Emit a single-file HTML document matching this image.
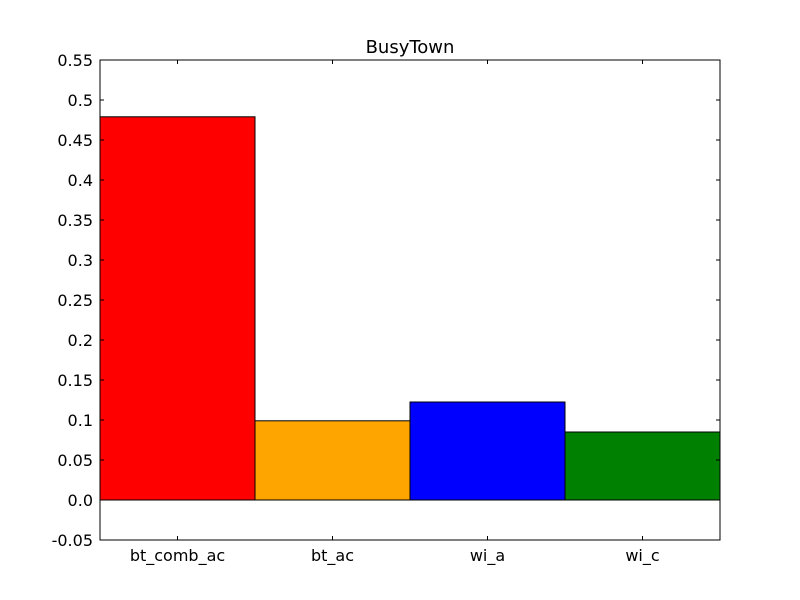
<!DOCTYPE html>
<html><head><meta charset="utf-8"><style>body{margin:0;background:#fff}svg{display:block}text{font-family:"DejaVu Sans","Liberation Sans",sans-serif;font-size:16px;fill:#000}</style></head>
<body>
<svg id="chart" width="800" height="600" xmlns="http://www.w3.org/2000/svg">
<rect width="800" height="600" fill="#fff"/>
<text x="410" y="53" text-anchor="middle" style="font-size:18px">BusyTown</text>
<g id="bars"></g><g id="axes"></g>
</svg>
<script>
const categories = ["bt_comb_ac","bt_ac","wi_a","wi_c"];
const values = [0.479, 0.099, 0.1225, 0.085];
const colors = ["#ff0000","#ffa500","#0000ff","#008000"];
const yTicks = [-0.05,0,0.05,0.1,0.15,0.2,0.25,0.3,0.35,0.4,0.45,0.5,0.55];
const yTickLabels = ["-0.05","0.0","0.05","0.1","0.15","0.2","0.25","0.3","0.35","0.4","0.45","0.5","0.55"];
const L=100,R=720,T=60,B=540,yMin=-0.05,yMax=0.55;
const NS="http://www.w3.org/2000/svg";
const y=v=>B-(v-yMin)/(yMax-yMin)*(B-T);
const bw=(R-L)/categories.length;
const x=i=>L+i*bw;
function mk(t,a,p){const e=document.createElementNS(NS,t);for(const k in a)e.setAttribute(k,a[k]);p.appendChild(e);return e;}
const bars=document.getElementById('bars'),axes=document.getElementById('axes');
values.forEach((v,i)=>{
 const r=mk('rect',{x:x(i),y:Math.min(y(v),y(0)),width:bw,height:Math.abs(y(0)-y(v)),fill:colors[i],stroke:'#000','stroke-width':1},bars);
 
 
 const t=mk('text',{x:x(i)+bw/2,y:B+21,'text-anchor':'middle'},axes);t.textContent=categories[i];
 
 
 mk('line',{x1:x(i)+bw/2,x2:x(i)+bw/2,y1:B,y2:B-4,stroke:'#000'},axes);
 mk('line',{x1:x(i)+bw/2,x2:x(i)+bw/2,y1:T,y2:T+4,stroke:'#000'},axes);
});
yTicks.forEach((v,i)=>{
 const yy=y(v);
 mk('line',{x1:L,x2:L+4,y1:yy,y2:yy,stroke:'#000'},axes);
 mk('line',{x1:R,x2:R-4,y1:yy,y2:yy,stroke:'#000'},axes);
 const t=mk('text',{x:L-7,y:yy+6,'text-anchor':'end'},axes);t.textContent=yTickLabels[i];
 
 
});
const f=mk('rect',{x:L,y:T,width:R-L,height:B-T,fill:'none',stroke:'#000','stroke-width':1},axes);


</script>
</body></html>
